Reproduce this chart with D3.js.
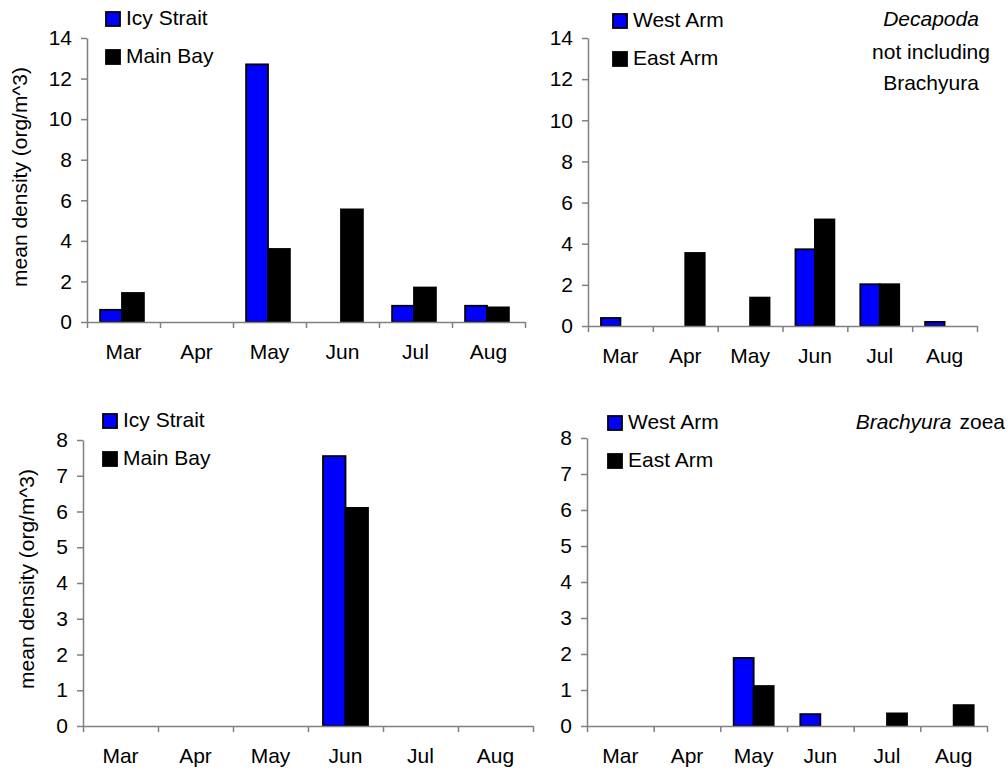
<!DOCTYPE html>
<html>
<head>
<meta charset="utf-8">
<script src="https://cdn.jsdelivr.net/npm/d3@7"></script>
<style>
  html, body { margin: 0; padding: 0; background: #fff; }
  svg { display: block; }
  text { font-family: "Liberation Sans", Arial, sans-serif; font-size: 21px; fill: #000; }
</style>
</head>
<body>
<svg id="chart" width="1008" height="772"></svg>
<script>
const months = ["Mar", "Apr", "May", "Jun", "Jul", "Aug"];

// Panel 1: Decapoda not incl. Brachyura – Icy Strait / Main Bay
const p1Names = ["Icy Strait", "Main Bay"];
const p1Icy  = [0.6, 0, 12.7, 0, 0.8, 0.8];
const p1Main = [1.43, 0, 3.6, 5.55, 1.7, 0.72];
const p1Ticks = [0, 2, 4, 6, 8, 10, 12, 14];

// Panel 2: Decapoda not incl. Brachyura – West Arm / East Arm
const p2Names = ["West Arm", "East Arm"];
const p2West = [0.39, 0, 0, 3.73, 2.03, 0.2];
const p2East = [0, 3.55, 1.38, 5.18, 2.03, 0];
const p2Ticks = [0, 2, 4, 6, 8, 10, 12, 14];

// Panel 3: Brachyura zoea – Icy Strait / Main Bay
const p3Names = ["Icy Strait", "Main Bay"];
const p3Icy  = [0, 0, 0, 7.55, 0, 0];
const p3Main = [0, 0, 0, 6.1, 0, 0];
const p3Ticks = [0, 1, 2, 3, 4, 5, 6, 7, 8];

// Panel 4: Brachyura zoea – West Arm / East Arm
const p4Names = ["West Arm", "East Arm"];
const p4West = [0, 0, 1.89, 0.33, 0, 0];
const p4East = [0, 0, 1.11, 0, 0.35, 0.58];
const p4Ticks = [0, 1, 2, 3, 4, 5, 6, 7, 8];

const colors = ["#0000ff", "#000000"];
const axisColor = "#808080";
const svg = d3.select("#chart");

function panel(cfg) {
  const g = svg.append("g");
  const x = d3.scaleBand().domain(months).range([cfg.x0, cfg.x1]).padding(0);
  const xb = d3.scaleLinear().domain([0, months.length]).range([cfg.x0, cfg.x1]);
  const y = d3.scaleLinear().domain([0, cfg.ymax]).range([cfg.yBase, cfg.yTop]);
  const bw = x.bandwidth() * 0.3;

  // y axis
  const ya = g.append("g").attr("transform", `translate(${cfg.x0},0)`)
    .call(d3.axisLeft(y).tickValues(cfg.ticks).tickSize(6).tickSizeOuter(0).tickPadding(9).tickFormat(d3.format("d")));
  ya.select(".domain").attr("stroke", axisColor).attr("stroke-width", 1.5);
  ya.selectAll(".tick line").attr("stroke", axisColor).attr("stroke-width", 1.5);
  ya.selectAll(".tick text").attr("font-family", null).attr("font-size", null);

  // bars
  const series = [cfg.s1, cfg.s2];
  series.forEach((vals, si) => {
    g.append("g").selectAll("rect")
      .data(months.map((m, i) => ({ m, v: vals[i] })).filter(d => d.v > 0))
      .join("rect")
      .attr("x", d => x(d.m) + x.bandwidth() / 2 - bw + si * bw + cfg.shift)
      .attr("width", bw)
      .attr("y", d => y(d.v))
      .attr("height", d => y(0) - y(d.v))
      .attr("fill", colors[si])
      .attr("stroke", "#000")
      .attr("stroke-width", 1.8);
  });

  // x axis: boundary ticks
  const xa = g.append("g").attr("transform", `translate(0,${cfg.yBase})`)
    .call(d3.axisBottom(xb).tickValues(d3.range(0, months.length + 1)).tickSize(6).tickSizeOuter(0).tickFormat(""));
  xa.select(".domain").attr("stroke", axisColor).attr("stroke-width", 1.5);
  xa.selectAll(".tick line").attr("stroke", axisColor).attr("stroke-width", 1.5);

  // x labels
  const xl = g.append("g").attr("transform", `translate(0,${cfg.yBase})`)
    .call(d3.axisBottom(x).tickSize(0).tickPadding(22));
  xl.select(".domain").remove();
  xl.selectAll(".tick text").attr("font-family", null).attr("font-size", null);

  // y label
  if (cfg.ylab) {
    g.append("text")
      .attr("transform", `translate(${cfg.ylab.x},${cfg.ylab.y}) rotate(-90)`)
      .attr("text-anchor", "middle")
      .text("mean density (org/m^3)");
  }

  // legend
  cfg.names.forEach((n, i) => {
    const ly = cfg.leg.y + i * 38;
    g.append("rect").attr("x", cfg.leg.x).attr("y", ly).attr("width", 14).attr("height", 14)
      .attr("fill", colors[i]).attr("stroke", "#000").attr("stroke-width", 1.8);
    g.append("text").attr("x", cfg.leg.x + 20).attr("y", ly + 13).text(n);
  });
  return g;
}

panel({ x0: 87, x1: 525, yBase: 322, yTop: 38, ymax: 14, ticks: p1Ticks, s1: p1Icy, s2: p1Main, shift: -1.5,
  names: p1Names, leg: { x: 106, y: 12 }, ylab: { x: 27, y: 177 } });
panel({ x0: 588, x1: 977, yBase: 326, yTop: 38, ymax: 14, ticks: p2Ticks, s1: p2West, s2: p2East, shift: 0,
  names: p2Names, leg: { x: 613, y: 14 } });
panel({ x0: 83, x1: 533, yBase: 726, yTop: 440, ymax: 8, ticks: p3Ticks, s1: p3Icy, s2: p3Main, shift: 0,
  names: p3Names, leg: { x: 103, y: 414 }, ylab: { x: 34, y: 579 } });
panel({ x0: 587, x1: 987, yBase: 726, yTop: 438, ymax: 8, ticks: p4Ticks, s1: p4West, s2: p4East, shift: 0,
  names: p4Names, leg: { x: 608, y: 416 } });

// titles
const t1 = svg.append("text").attr("text-anchor", "middle");
t1.append("tspan").attr("x", 931).attr("y", 26).style("font-style", "italic").text("Decapoda");
t1.append("tspan").attr("x", 931).attr("y", 59).text("not including");
t1.append("tspan").attr("x", 931).attr("y", 90).text("Brachyura");

const t2 = svg.append("text").attr("text-anchor", "end").attr("x", 1005).attr("y", 429);
t2.append("tspan").style("font-style", "italic").text("Brachyura");
t2.append("tspan").attr("dx", 8).text("zoea");
</script>
</body>
</html>
